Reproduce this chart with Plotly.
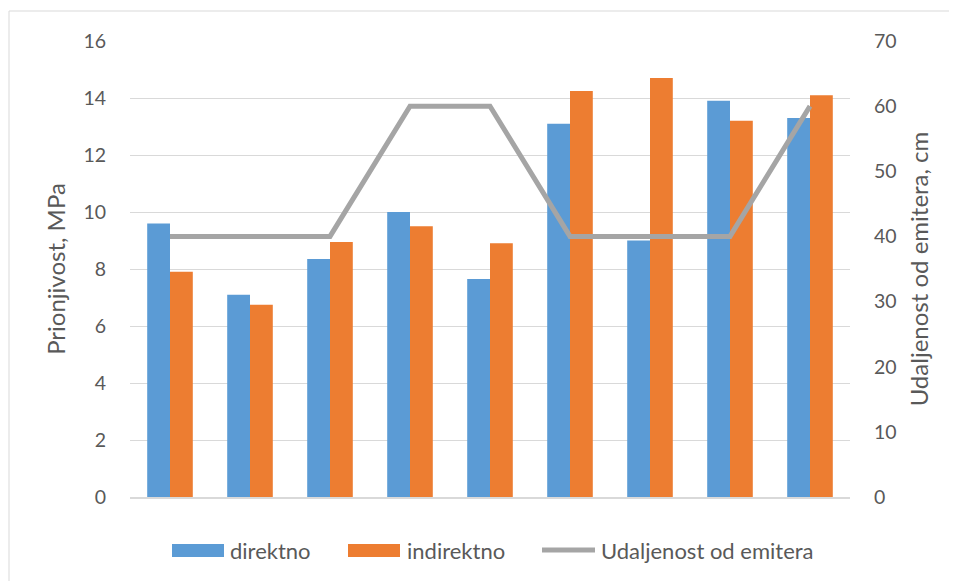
import plotly.graph_objects as go

categories = ["1", "2", "3", "4", "5", "6", "7", "8", "9"]
direktno = [9.6, 7.1, 8.35, 10.0, 7.65, 13.1, 9.0, 13.9, 13.3]
indirektno = [7.9, 6.75, 8.95, 9.5, 8.9, 14.25, 14.7, 13.2, 14.1]
udaljenost = [40, 40, 40, 60, 60, 40, 40, 40, 60]
left_ticks = [0, 2, 4, 6, 8, 10, 12, 14, 16]
right_ticks = [0, 10, 20, 30, 40, 50, 60, 70]
series_names = ["direktno", "indirektno", "Udaljenost od emitera"]
series_colors = ["#5B9BD5", "#ED7D31", "#A5A5A5"]

FONT = "Lato"
TXT = "#595959"

fig = go.Figure()
fig.add_trace(go.Bar(x=categories, y=direktno, name=series_names[0],
                     marker=dict(color=series_colors[0], line=dict(width=0))))
fig.add_trace(go.Bar(x=categories, y=indirektno, name=series_names[1],
                     marker=dict(color=series_colors[1], line=dict(width=0))))
fig.add_trace(go.Scatter(x=categories, y=udaljenost, name=series_names[2],
                         mode="lines", yaxis="y2",
                         line=dict(color=series_colors[2], width=5)))

# page has an 8px body margin; target plot area (screen px): x 130..850, y 41..497
OFF = 8
PX0, PX1, PY0, PY1 = 130, 850, 41, 497
L, T = PX0 - OFF, PY0 - OFF
R, B = 957 - (PX1 - OFF), 581 - (PY1 - OFF)
pw, ph = PX1 - PX0, PY1 - PY0


def px(x):
    return (x - PX0) / pw


def py(y):
    return (PY1 - y) / ph


shapes = [dict(type="rect", xref="paper", yref="paper",
               x0=px(9), x1=px(1000), y0=py(640), y1=py(11),
               line=dict(color="#D9D9D9", width=1), fillcolor="rgba(0,0,0,0)", layer="below")]
annotations = []

# custom legend (Excel style)
leg_y = 550
box_x = [(172, 224), (348, 400), (540, 597)]
text_x = [229, 406, 600]
for i, (a, b) in enumerate(box_x):
    if i < 2:
        shapes.append(dict(type="rect", xref="paper", yref="paper",
                           x0=px(a), x1=px(b), y0=py(leg_y + 7), y1=py(leg_y - 6),
                           line=dict(width=0), fillcolor=series_colors[i]))
    else:
        shapes.append(dict(type="line", xref="paper", yref="paper",
                           x0=px(a + 2), x1=px(b - 2), y0=py(leg_y), y1=py(leg_y),
                           line=dict(color=series_colors[i], width=5)))
    annotations.append(dict(text=series_names[i], xref="paper", yref="paper",
                            x=px(text_x[i] - 1), y=py(leg_y), xanchor="left", yanchor="middle",
                            showarrow=False, font=dict(size=22, color=TXT, family=FONT)))

fig.update_layout(
    width=957, height=581,
    margin=dict(l=L, r=R, t=T, b=B, autoexpand=False),
    paper_bgcolor="white", plot_bgcolor="white",
    barmode="group", bargap=0.43, bargroupgap=0,
    font=dict(family=FONT, color=TXT, size=19.5),
    showlegend=False,
    xaxis=dict(showticklabels=False, showgrid=False, zeroline=False,
               showline=True, linecolor="#D9D9D9", linewidth=2, ticks=""),
    yaxis=dict(range=[0, 16], tickvals=left_ticks, showgrid=True, gridcolor="#D9D9D9",
               gridwidth=1, zeroline=False, showline=False, ticks="",
               ticklabelstandoff=23,
               title=dict(text="Prionjivost, MPa", font=dict(size=24, color=TXT), standoff=10)),
    yaxis2=dict(range=[0, 70], tickvals=right_ticks, overlaying="y", side="right",
                showgrid=False, zeroline=False, showline=False, ticks="",
                ticklabelstandoff=23,
                title=dict(text="Udaljenost od emitera, cm", font=dict(size=24, color=TXT), standoff=15)),
    shapes=shapes,
    annotations=annotations,
)

fig.write_html("out.html")
